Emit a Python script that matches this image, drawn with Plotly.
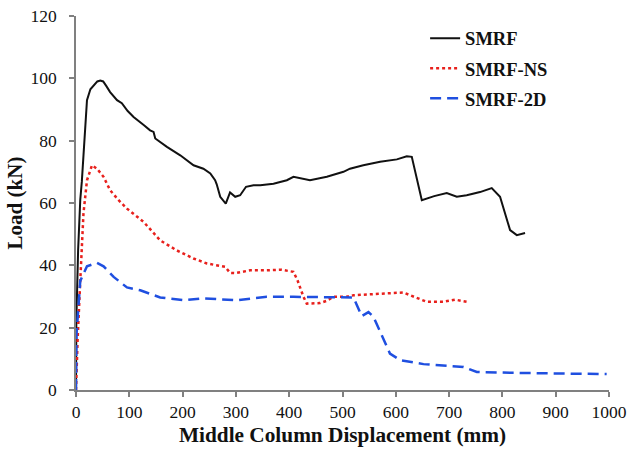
import plotly.graph_objects as go

# Load vs. middle column displacement for three frame models
smrf_x = [0, 0.6, 4, 8, 11, 16, 20.6, 27, 33, 40, 45.6, 51, 57, 64, 77, 86, 97, 108, 127, 139, 145.5, 148.7,
          170.6, 195.6, 220.5, 239, 252, 261, 264, 267.5, 270.6, 281, 289, 298.7, 308, 319, 333, 345.6,
          370.5, 395.6, 408, 439, 470.6, 501.8, 514, 539, 570.6, 602, 620.6, 630, 648.8, 672, 695.6, 714.4,
          733, 758, 780, 795.6, 814.4, 827, 842.5]
smrf_y = [0, 22, 45, 61, 67, 82, 93, 96.5, 97.8, 99, 99.3, 99, 97.5, 95.6, 93, 92, 89.5, 87.6, 85, 83.3, 82.8, 80.7,
          78, 75.3, 72.1, 71, 69.5, 67.3, 66, 64.1, 62, 59.8, 63.4, 62, 62.5, 65.2, 65.7, 65.7,
          66.2, 67.3, 68.4, 67.3, 68.4, 70, 71, 72.1, 73.2, 74, 75, 74.8, 60.9, 62.2, 63.2, 62,
          62.5, 63.5, 64.8, 62, 51.3, 49.7, 50.4]

ns_x = [0, 3, 8, 14, 20.6, 30, 39.4, 51.7, 64, 80, 95.6, 127, 158, 189, 220.5, 245.6, 280, 289, 298.7, 327,
        358, 385, 408, 415.6, 426.8, 433, 458, 470, 483, 508, 520.6, 545, 570.6, 614, 627, 658, 689, 711, 733]
ns_y = [0, 16, 35, 56.6, 67.3, 72.1, 71, 68.4, 64.1, 60.9, 58.2, 53.9, 48, 44.8, 42.2, 40.6, 39.5, 37.6, 37.5, 38.4,
        38.4, 38.6, 37.9, 35.2, 29.9, 27.7, 27.9, 28.6, 29.9, 29.9, 30.4, 30.6, 31, 31.3, 30.4, 28.3, 28.3, 29, 28.3]

d2_x = [0, 1, 8, 20.6, 39.4, 51.7, 70.6, 95.6, 120.6, 158, 201.7, 239, 302, 358, 408, 458, 508, 520.6, 536,
        548.7, 558, 577, 589, 608, 652, 727, 752, 820, 914, 995.6]
d2_y = [0, 18, 35, 39.7, 40.8, 39.7, 36.3, 32.9, 32, 29.7, 28.8, 29.4, 28.8, 29.9, 29.9, 29.9, 29.7, 29.7, 23.7,
        25, 23.5, 16, 11.7, 9.6, 8.3, 7.4, 5.8, 5.5, 5.3, 5.1]

x_ticks = list(range(0, 1001, 100))
y_ticks = list(range(0, 121, 20))

serif = "Liberation Serif, Times New Roman, serif"

fig = go.Figure()
fig.add_trace(go.Scatter(x=smrf_x, y=smrf_y, mode="lines", name="<b>SMRF</b>", legendgroup="a",
                         line=dict(color="#111111", width=2)))
fig.add_trace(go.Scatter(x=ns_x, y=ns_y, mode="lines", name="<b>SMRF-NS</b>", legendgroup="b",
                         line=dict(color="#e8201c", width=2.5, dash="dot")))
fig.add_trace(go.Scatter(x=d2_x, y=d2_y, mode="lines", name="<b>SMRF-2D</b>", legendgroup="c",
                         line=dict(color="#1f4fe0", width=2.5, dash="11px,6px")))

axis_common = dict(showgrid=False, zeroline=False, showline=True, linecolor="#808080", linewidth=1.5,
                   ticks="outside", ticklen=5, tickcolor="#808080", tickwidth=1.5, automargin=False,
                   tickfont=dict(family=serif, size=17.5, color="#111111"))

fig.update_layout(
    width=630, height=451,
    margin=dict(l=76, r=21, t=16, b=61),
    paper_bgcolor="white", plot_bgcolor="white",
    xaxis=dict(range=[0, 1000], tickvals=x_ticks,
               title=dict(text="<b>Middle Column Displacement (mm)</b>", standoff=6,
                          font=dict(family=serif, size=21.3, color="#111111")),
               **axis_common),
    yaxis=dict(range=[0, 120], tickvals=y_ticks, ticklabelstandoff=9,
               title=dict(text="<b>Load (kN)</b>", standoff=2,
                          font=dict(family=serif, size=21, color="#111111")),
               **axis_common),
    legend=dict(x=0.655, y=0.99, xanchor="left", yanchor="top", traceorder="grouped",
                tracegroupgap=3, itemwidth=30, bgcolor="rgba(0,0,0,0)",
                font=dict(family=serif, size=18.5, color="#111111")),
)

fig.write_html("out.html")
